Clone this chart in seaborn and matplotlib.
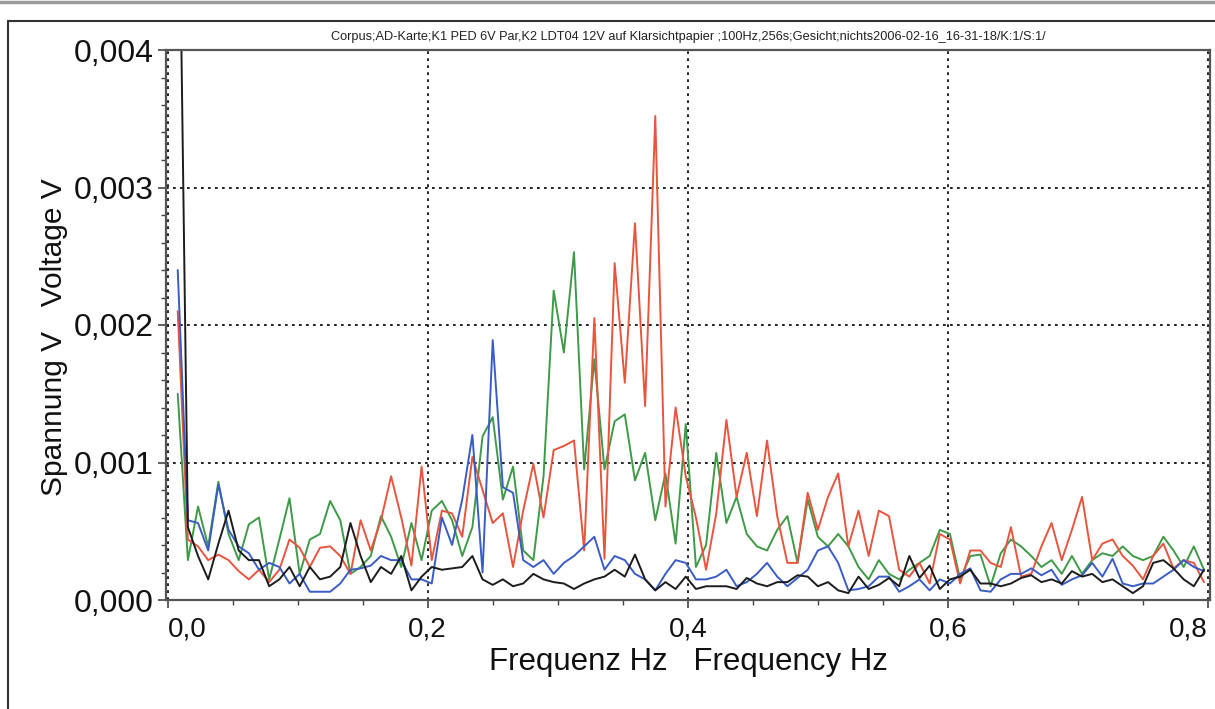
import numpy as np
import pandas as pd
import matplotlib
matplotlib.use("Agg")
import matplotlib.pyplot as plt
import seaborn as sns
from matplotlib.ticker import MultipleLocator, FuncFormatter
from matplotlib.lines import Line2D

# ---------------- data (spectrum amplitudes in units of 1e-4 V) ----------------
bin_width = 1 / 128.0          # Hz between plotted bins
unit = 1e-4                    # values below are in 1e-4 V

green = [15, 2.9, 6.8, 3.9, 8.6, 4.8, 2.9, 5.5, 6.0, 1.5,
         4.4, 7.4, 1.9, 4.4, 4.8, 7.2, 5.8, 1.9, 2.4, 3.2,
         6.1, 4.6, 2.4, 5.6, 2.9, 6.5, 7.2, 5.8, 3.2, 5.3,
         11.9, 13.3, 7.3, 9.7, 3.6, 2.9, 9.0, 22.5, 18.0, 25.3,
         9.5, 17.5, 9.5, 13.0, 13.5, 8.7, 10.7, 5.8, 9.2, 4.1,
         12.8, 2.4, 4.0, 10.7, 5.6, 7.5, 4.8, 3.9, 3.6, 5.1,
         6.1, 2.7, 7.3, 4.6, 3.9, 4.8, 3.9, 2.4, 1.5, 2.9,
         1.9, 1.5, 2.2, 2.7, 3.2, 5.1, 4.8, 1.5, 3.2, 3.3,
         1.0, 3.4, 4.4, 3.9, 3.2, 2.4, 2.9, 1.9, 3.2, 1.9,
         2.9, 3.4, 3.2, 3.9, 3.2, 2.9, 3.2, 4.6, 3.6, 2.4,
         3.9, 2.2]

red = [21, 4.4, 3.9, 2.9, 3.3, 2.9, 2.1, 1.5, 2.2, 1.3,
       2.2, 4.4, 3.8, 2.4, 3.8, 3.9, 3.2, 1.9, 5.8, 3.6,
       5.8, 9.0, 6.0, 2.5, 9.7, 2.9, 6.5, 6.3, 4.6, 10.4,
       8.0, 5.6, 6.3, 2.4, 6.5, 9.9, 6.0, 10.9, 11.2, 11.6,
       3.6, 20.5, 3.0, 24.5, 15.8, 27.4, 14.1, 35.2, 6.8, 14.0,
       9.0, 6.0, 2.2, 6.3, 13.1, 7.5, 10.7, 6.1, 11.6, 6.1,
       2.7, 2.7, 7.8, 5.1, 7.5, 9.2, 3.9, 6.5, 3.2, 6.5,
       6.1, 2.2, 1.7, 2.7, 1.2, 4.8, 4.4, 1.2, 3.6, 3.6,
       2.7, 2.4, 5.3, 1.7, 1.9, 3.9, 5.6, 2.9, 5.1, 7.5,
       2.9, 4.1, 4.4, 3.2, 2.5, 1.5, 3.2, 4.1, 2.3, 2.9,
       2.7, 1.3]

blue = [24, 5.8, 5.6, 3.6, 8.4, 5.1, 3.9, 3.4, 2.2, 2.7,
        2.4, 1.2, 1.9, 0.6, 0.6, 0.6, 1.2, 2.2, 2.3, 2.5,
        3.2, 2.9, 2.9, 1.5, 1.5, 1.2, 6.0, 4.0, 7.3, 12.0,
        2.0, 18.9, 8.2, 7.8, 2.9, 2.4, 2.9, 1.9, 2.7, 3.2,
        3.9, 4.6, 2.2, 3.2, 2.9, 1.9, 1.5, 0.7, 1.9, 2.9,
        2.7, 1.5, 1.5, 1.7, 2.2, 1.0, 1.3, 1.9, 2.7, 1.7,
        1.0, 1.6, 2.2, 3.6, 3.9, 2.7, 0.7, 0.8, 1.0, 1.7,
        1.7, 0.6, 1.0, 1.5, 0.7, 1.5, 1.2, 1.9, 2.3, 0.7,
        0.6, 1.5, 1.9, 1.9, 2.3, 1.8, 2.2, 1.1, 1.5, 1.8,
        2.7, 1.7, 3.0, 1.2, 1.0, 1.2, 1.2, 1.7, 2.2, 2.9,
        2.4, 2.1]

black = [60, 5.3, 3.2, 1.5, 4.1, 6.5, 3.6, 2.9, 2.9, 1.0,
         1.5, 2.4, 1.0, 2.4, 1.5, 1.7, 2.4, 5.6, 3.2, 1.3,
         2.4, 1.9, 3.2, 0.7, 1.7, 2.4, 2.2, 2.3, 2.4, 3.2,
         1.5, 1.1, 1.5, 1.0, 1.2, 1.9, 1.5, 1.3, 1.2, 0.8,
         1.2, 1.5, 1.7, 2.2, 1.7, 3.3, 1.5, 0.7, 1.3, 0.8,
         1.7, 0.8, 1.0, 1.0, 1.0, 0.8, 1.6, 1.2, 1.0, 1.3,
         1.3, 1.8, 1.7, 1.0, 1.3, 0.7, 0.5, 1.7, 0.8, 1.1,
         1.6, 1.0, 3.2, 1.6, 2.5, 0.8, 1.5, 1.7, 2.2, 1.2,
         1.2, 1.0, 1.2, 1.6, 1.8, 1.3, 1.5, 1.2, 2.1, 1.7,
         1.9, 1.3, 1.5, 1.0, 0.5, 1.0, 2.7, 2.9, 2.3, 1.5,
         1.0, 2.2]

channels = ["green", "red", "blue", "black"]
colors = {"green": "#3f9a48", "red": "#e8553f", "blue": "#3a5cc4", "black": "#1c1c1c"}

x_tick_values = [0.0, 0.2, 0.4, 0.6, 0.8]
y_tick_values = [0.000, 0.001, 0.002, 0.003, 0.004]

title = ("Corpus;AD-Karte;K1 PED 6V Par,K2 LDT04 12V auf Klarsichtpapier ;100Hz,256s;"
         "Gesicht;nichts2006-02-16_16-31-18/K:1/S:1/")
xlabel = "Frequenz Hz   Frequency Hz"
ylabel = "Spannung V   Voltage V"

# ---------------- build table ----------------
series = {"green": green, "red": red, "blue": blue, "black": black}
frames = []
for ch in channels:
    vals = np.asarray(series[ch], dtype=float) * unit
    f = np.arange(1, len(vals) + 1) * bin_width
    frames.append(pd.DataFrame({"freq": f, "volt": vals, "channel": ch}))
df = pd.concat(frames, ignore_index=True)

# ---------------- plot ----------------
sns.set_theme(style="white")
plt.rcParams["font.family"] = ["Liberation Sans", "DejaVu Sans"]

W, H = 1215, 709
fig = plt.figure(figsize=(W / 100, H / 100), dpi=100)
ax = fig.add_axes([166 / W, 1 - 600 / H, (1210 - 166) / W, (600 - 50) / H])

sns.lineplot(data=df, x="freq", y="volt", hue="channel", hue_order=channels,
             palette=colors, estimator=None, sort=False, legend=False,
             linewidth=1.4, ax=ax)

ax.set_xlim(-0.0012, 0.8015)
ax.set_ylim(0, 0.004)

ax.set_xticks(x_tick_values)
ax.set_yticks(y_tick_values)
ax.xaxis.set_minor_locator(MultipleLocator(0.05))
ax.yaxis.set_minor_locator(MultipleLocator(0.0002))
ax.xaxis.set_major_formatter(FuncFormatter(lambda v, p: f"{v:.1f}".replace(".", ",")))
ax.yaxis.set_major_formatter(FuncFormatter(lambda v, p: f"{v:.3f}".replace(".", ",")))

ax.tick_params(axis="both", which="major", direction="out", length=6, width=1.2,
               color="#444444", labelcolor="#111111", pad=4,
               bottom=True, left=True)
ax.tick_params(axis="both", which="minor", direction="out", length=3.5, width=1.0,
               color="#444444", bottom=True, left=True)
ax.tick_params(axis="x", which="major", labelsize=20, pad=6)
ax.tick_params(axis="y", which="major", labelsize=23, pad=3)

ax.grid(True, which="major", color="#222222", linestyle=(0, (1.4, 2.2)), linewidth=1.4)
ax.set_axisbelow(True)

for side in ["left", "right", "top", "bottom"]:
    ax.spines[side].set_visible(True)
    ax.spines[side].set_color("#555555")
    ax.spines[side].set_linewidth(1.6)

ax.set_xlabel(xlabel, fontsize=22.5, color="#111111", labelpad=3)
ax.set_ylabel(ylabel, fontsize=21.5, color="#111111")
ax.yaxis.set_label_coords(-0.094, 0.478)
ax.set_title(title, fontsize=9.2, color="#222222", pad=7)

# keep the outer x tick labels inside the plot width, as in the original
xticks = ax.xaxis.get_major_ticks()
xticks[0].label1.set_horizontalalignment("left")
xticks[-1].label1.set_horizontalalignment("right")

# outer window frame
fig.add_artist(Line2D([0, 1], [1 - 2 / H, 1 - 2 / H], transform=fig.transFigure,
                      color="#9a9a9a", linewidth=2.5))
fig.add_artist(Line2D([8 / W, 1], [1 - 21 / H, 1 - 21 / H], transform=fig.transFigure,
                      color="#333333", linewidth=1.5))
fig.add_artist(Line2D([8 / W, 8 / W], [0, 1 - 21 / H], transform=fig.transFigure,
                      color="#333333", linewidth=1.5))

fig.savefig("out.png", dpi=100, facecolor="white")
